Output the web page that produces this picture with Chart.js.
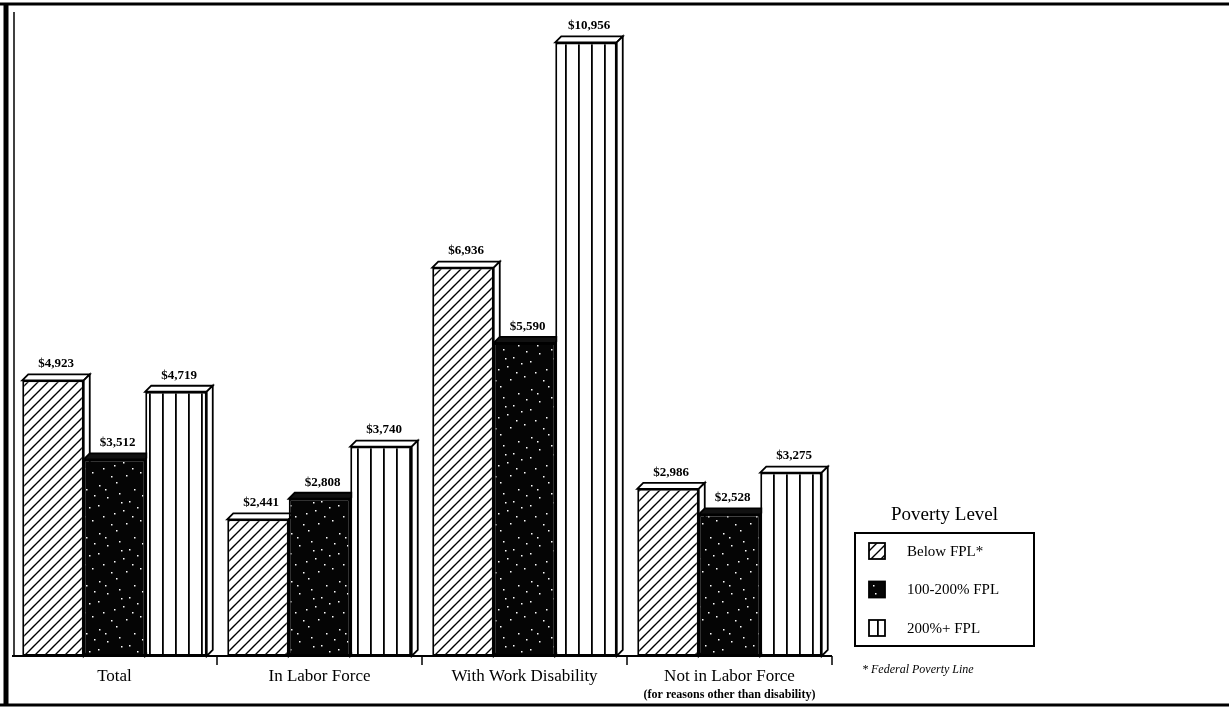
<!DOCTYPE html>
<html>
<head>
<meta charset="utf-8">
<script src="https://cdn.jsdelivr.net/npm/chart.js"></script>
<style>
  html, body { margin: 0; padding: 0; background: #fff; }
  canvas { display: block; }
</style>
</head>
<body>
<canvas id="chart" width="1229" height="716"></canvas>
<script>
// data
const categories = ['Total', 'In Labor Force', 'With Work Disability', 'Not in Labor Force'];
const categoryNotes = ['', '', '', '(for reasons other than disability)'];
const seriesNames = ['Below FPL*', '100-200% FPL', '200%+ FPL'];
const belowFpl = [4923, 2441, 6936, 2986];
const midFpl = [3512, 2808, 5590, 2528];
const aboveFpl = [4719, 3740, 10956, 3275];

const SERIF = '"Liberation Serif", "DejaVu Serif", serif';
const DEPTH = 6;

// fill patterns
function makeTile(w, h, draw) {
  const c = document.createElement('canvas');
  c.width = w; c.height = h;
  draw(c.getContext('2d'));
  return c.getContext('2d').createPattern(c, 'repeat');
}
const hatch = makeTile(10, 10, g => {
  g.fillStyle = '#fff'; g.fillRect(0, 0, 10, 10);
  g.strokeStyle = '#000'; g.lineWidth = 1.4;
  g.beginPath();
  g.moveTo(-1, 11); g.lineTo(11, -1);
  g.moveTo(-2, 2); g.lineTo(2, -2);
  g.moveTo(8, 12); g.lineTo(12, 8);
  g.stroke();
});
const speckle = makeTile(48, 48, g => {
  g.fillStyle = '#050505'; g.fillRect(0, 0, 48, 48);
  g.fillStyle = '#fff';
  const dots = [[3,5],[11,17],[20,2],[27,30],[38,9],[44,40],[7,36],[15,44],[33,21],[41,27],
                [23,13],[2,25],[30,43],[46,15],[18,33],[36,36],[9,9],[25,22]];
  dots.forEach(([x, y]) => g.fillRect(x, y, 1.5, 1.5));
});
const stripes = makeTile(13, 10, g => {
  g.fillStyle = '#fff'; g.fillRect(0, 0, 13, 10);
  g.fillStyle = '#000'; g.fillRect(6, 0, 1.8, 10);
});

const fills = [hatch, speckle, stripes];
const topFaces = ['#fff', '#111', '#fff'];

// 3D top and side faces, drawn before the fronts
const extrude = {
  id: 'extrude',
  beforeDatasetsDraw(chart) {
    const ctx = chart.ctx;
    ctx.save();
    ctx.lineWidth = 1.8;
    ctx.strokeStyle = '#000';
    chart.data.datasets.forEach((ds, di) => {
      chart.getDatasetMeta(di).data.forEach(bar => {
        const l = bar.x - bar.width / 2, r = bar.x + bar.width / 2;
        const t = bar.y, b = bar.base;
        ctx.fillStyle = topFaces[di];
        ctx.beginPath();
        ctx.moveTo(l, t); ctx.lineTo(l + DEPTH, t - DEPTH);
        ctx.lineTo(r + DEPTH, t - DEPTH); ctx.lineTo(r, t); ctx.closePath();
        ctx.fill(); ctx.stroke();
        ctx.fillStyle = '#fff';
        ctx.beginPath();
        ctx.moveTo(r, t); ctx.lineTo(r + DEPTH, t - DEPTH);
        ctx.lineTo(r + DEPTH, b - DEPTH); ctx.lineTo(r, b); ctx.closePath();
        ctx.fill(); ctx.stroke();
      });
    });
    ctx.restore();
  },
  afterDatasetsDraw(chart) {
    const ctx = chart.ctx;
    ctx.save();
    ctx.fillStyle = '#000';
    ctx.font = 'bold 13px ' + SERIF;
    ctx.textAlign = 'center';
    ctx.textBaseline = 'bottom';
    chart.data.datasets.forEach((ds, di) => {
      chart.getDatasetMeta(di).data.forEach((bar, i) => {
        ctx.fillText('$' + ds.data[i].toLocaleString('en-US'), bar.x + DEPTH / 2, bar.y - DEPTH - 4);
      });
    });
    ctx.restore();
  }
};

// frame, floor, category labels, legend
const decor = {
  id: 'decor',
  afterDraw(chart) {
    const ctx = chart.ctx;
    const area = chart.chartArea;
    const xs = chart.scales.x;
    ctx.save();
    ctx.strokeStyle = '#000';
    // outer frame
    ctx.lineWidth = 3;
    ctx.beginPath(); ctx.moveTo(0, 4); ctx.lineTo(1229, 4); ctx.stroke();
    ctx.beginPath(); ctx.moveTo(0, 705); ctx.lineTo(1229, 705); ctx.stroke();
    ctx.lineWidth = 5;
    ctx.beginPath(); ctx.moveTo(6, 4); ctx.lineTo(6, 706); ctx.stroke();
    ctx.lineWidth = 1.5;
    ctx.beginPath(); ctx.moveTo(14, 12); ctx.lineTo(14, area.bottom); ctx.stroke();
    // floor line and group ticks
    ctx.lineWidth = 2;
    ctx.beginPath(); ctx.moveTo(area.left, area.bottom); ctx.lineTo(area.right, area.bottom); ctx.stroke();
    ctx.lineWidth = 1.5;
    const step = xs.getPixelForValue(1) - xs.getPixelForValue(0);
    for (let i = 0; i < categories.length; i++) {
      const bx = xs.getPixelForValue(i) + step / 2;
      ctx.beginPath(); ctx.moveTo(bx, area.bottom); ctx.lineTo(bx, area.bottom + 9); ctx.stroke();
    }
    // category labels
    ctx.fillStyle = '#000';
    ctx.textAlign = 'center';
    ctx.textBaseline = 'middle';
    categories.forEach((c, i) => {
      const cx = xs.getPixelForValue(i);
      ctx.font = '17px ' + SERIF;
      ctx.fillText(c, cx, 677);
      if (categoryNotes[i]) {
        ctx.font = 'bold 12px ' + SERIF;
        ctx.fillText(categoryNotes[i], cx, 695);
      }
    });
    // legend
    const bx = 855, by = 533, bw = 179, bh = 113;
    ctx.font = '19px ' + SERIF;
    ctx.fillText('Poverty Level', bx + bw / 2, 515);
    ctx.lineWidth = 2;
    ctx.strokeRect(bx, by, bw, bh);
    ctx.textAlign = 'left';
    ctx.font = '15px ' + SERIF;
    chart.data.datasets.forEach((ds, di) => {
      const cy = 551 + di * 38.5;
      ctx.fillStyle = ds.backgroundColor;
      ctx.fillRect(869, cy - 8, 16, 16);
      ctx.lineWidth = 1.8;
      ctx.strokeRect(869, cy - 8, 16, 16);
      ctx.fillStyle = '#000';
      ctx.fillText(ds.label, 907, cy + 1);
    });
    ctx.font = 'italic 12px ' + SERIF;
    ctx.fillText('* Federal Poverty Line', 862, 670);
    ctx.restore();
  }
};

new Chart(document.getElementById('chart'), {
  type: 'bar',
  data: {
    labels: categories,
    datasets: [
      { label: seriesNames[0], data: belowFpl, backgroundColor: fills[0] },
      { label: seriesNames[1], data: midFpl, backgroundColor: fills[1] },
      { label: seriesNames[2], data: aboveFpl, backgroundColor: fills[2] }
    ].map(d => Object.assign(d, { borderColor: '#000', borderWidth: 2, borderSkipped: false }))
  },
  options: {
    responsive: false,
    animation: false,
    layout: { padding: { left: 12, right: 397, top: 40, bottom: 60 } },
    datasets: { bar: { categoryPercentage: 0.9, barPercentage: 1 } },
    scales: {
      x: { display: false },
      y: { display: false, min: 0, max: 11000 }
    },
    plugins: { legend: { display: false }, tooltip: { enabled: false } }
  },
  plugins: [extrude, decor]
});
</script>
</body>
</html>
